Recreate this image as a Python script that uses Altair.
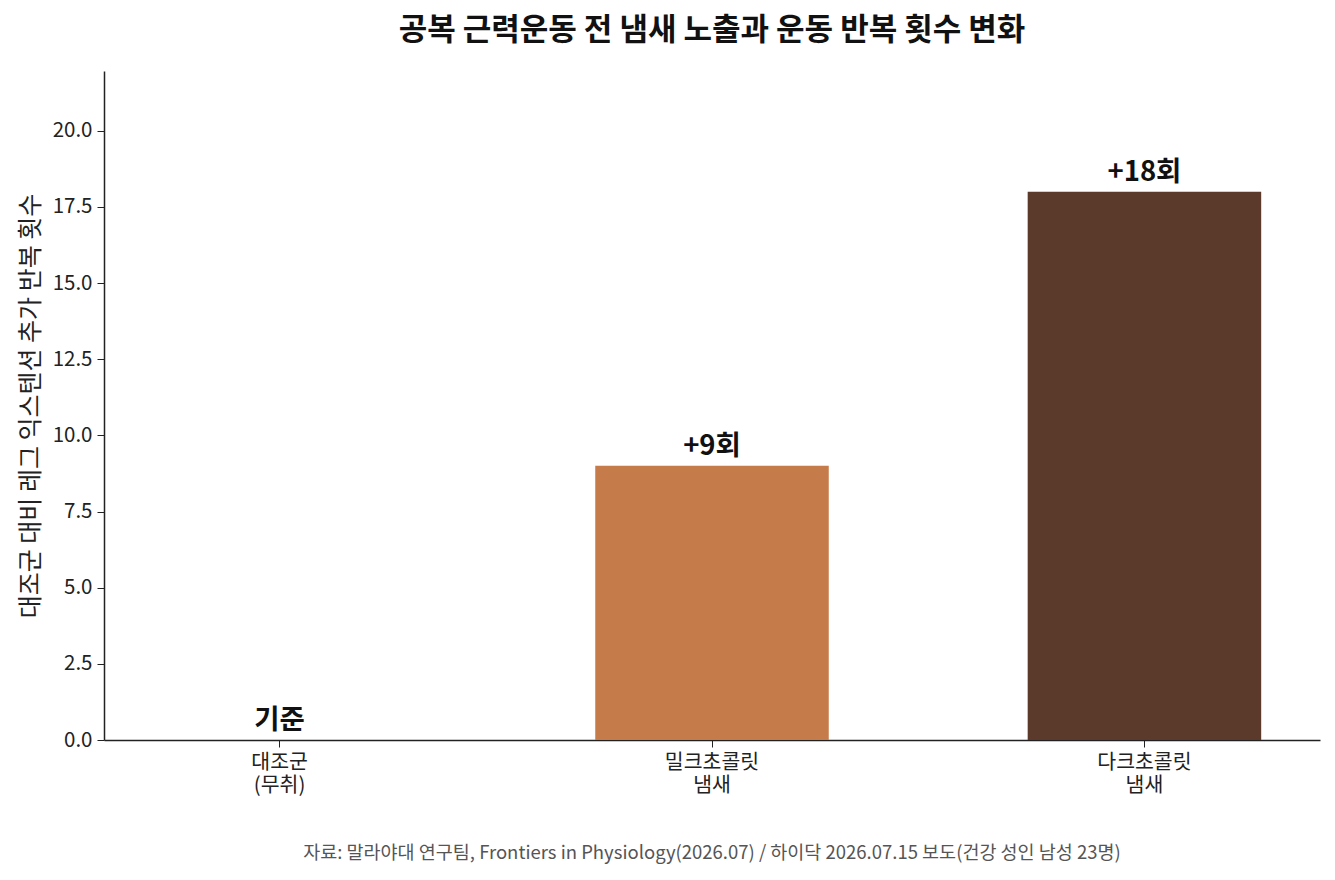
import altair as alt
import pandas as pd

categories = ["대조군\n(무취)", "밀크초콜릿\n냄새", "다크초콜릿\n냄새"]
values = [0, 9, 18]
labels = ["기준", "+9회", "+18회"]
colors = ["#9E9E9E", "#C67B4B", "#5C3A2B"]
title_text = "공복 근력운동 전 냄새 노출과 운동 반복 횟수 변화"
y_title = "대조군 대비 레그 익스텐션 추가 반복 횟수"
source_text = "자료: 말라야대 연구팀, Frontiers in Physiology(2026.07) / 하이닥 2026.07.15 보도(건강 성인 남성 23명)"

FONT = "Noto Sans CJK KR"
W, H = 1216, 669

df = pd.DataFrame({"cat": categories, "val": values, "lab": labels, "col": colors})

x = alt.X("cat:N", sort=categories, title=None,
          scale=alt.Scale(paddingInner=0.46, paddingOuter=0.136),
          axis=alt.Axis(labelAngle=0, labelExpr="split(datum.label, '\\n')",
                        labelFontSize=20.5, labelFont=FONT, labelColor="#222222",
                        labelLineHeight=23, labelPadding=5,
                        tickSize=7, tickColor="#222222", domainColor="#222222",
                        domainWidth=1.5))
y = alt.Y("val:Q", title=y_title,
          scale=alt.Scale(domain=[0, 21.96], nice=False),
          axis=alt.Axis(values=[0, 2.5, 5, 7.5, 10, 12.5, 15, 17.5, 20], format=".1f",
                        grid=False, labelFontSize=20.5, labelFont=FONT, labelColor="#222222",
                        labelPadding=5,
                        tickSize=7, tickColor="#222222", domainColor="#222222",
                        domainWidth=1.5, titleFont=FONT, titleFontSize=25,
                        titleFontWeight="normal", titleColor="#222222", titlePadding=9))

bars = alt.Chart(df).mark_bar().encode(
    x=x, y=y, color=alt.Color("col:N", scale=None)
)

text = alt.Chart(df).mark_text(font=FONT, fontSize=27.5, fontWeight="bold",
                               baseline="alphabetic", dy=-11, color="#111111").encode(
    x=alt.X("cat:N", sort=categories), y="val:Q", text="lab:N"
)

src = alt.Chart(pd.DataFrame({"t": [source_text]})).mark_text(
    font=FONT, fontSize=18.5, color="#555555", baseline="middle", align="center"
).encode(x=alt.value(W / 2), y=alt.value(782), text="t:N")

chart = alt.layer(bars, text, src).properties(
    width=W, height=H,
    background="white",
    title=alt.Title(title_text, font=FONT, fontSize=31, fontWeight="bold",
                    color="#111111", anchor="middle", offset=24),
    autosize=alt.AutoSizeParams(type="none"),
    padding={"left": 96, "top": 63, "right": 7, "bottom": 132},
).configure_view(strokeWidth=0, stroke=None)

chart.save("out.html", embed_options={"renderer": "svg", "actions": False})
